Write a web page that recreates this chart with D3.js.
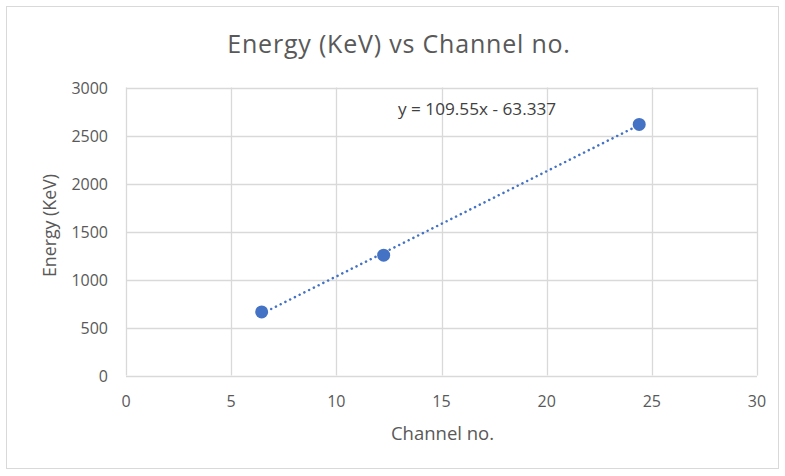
<!DOCTYPE html>
<html><head><meta charset="utf-8">
<script src="https://cdn.jsdelivr.net/npm/d3@7"></script>
<style>body{margin:0;background:#fff}svg{display:block}text{font-family:"Open Sans",sans-serif}</style>
</head><body><svg id="c" width="785" height="476"></svg>
<script>
const channels = [6.45, 12.25, 24.4];
const energies = [662, 1253, 2615];
const xTicks = [0, 5, 10, 15, 20, 25, 30];
const yTicks = [0, 500, 1000, 1500, 2000, 2500, 3000];
const slope = 109.55, intercept = -63.337;
const title = "Energy (KeV) vs Channel no.";
const xTitle = "Channel no.", yTitle = "Energy (KeV)";
const eqLabel = "y = 109.55x - 63.337";

const svg = d3.select("#c");
svg.append("rect").attr("x",6.5).attr("y",6.5).attr("width",772).attr("height",462)
  .attr("fill","#fff").attr("stroke","#d9d9d9");
const m = {l:126, r:757, t:87.5, b:375.5};
const x = d3.scaleLinear().domain([0,30]).range([m.l,m.r]);
const y = d3.scaleLinear().domain([0,3000]).range([m.b,m.t]);
const g = svg.append("g");
g.selectAll(".vg").data(xTicks).join("line").attr("x1",d=>Math.round(x(d))+0.5).attr("x2",d=>Math.round(x(d))+0.5)
  .attr("y1",m.t).attr("y2",m.b).attr("stroke","#d9d9d9").attr("stroke-width",1.3);
g.selectAll(".hg").data(yTicks).join("line").attr("y1",d=>Math.round(y(d))+0.5).attr("y2",d=>Math.round(y(d))+0.5)
  .attr("x1",m.l).attr("x2",m.r).attr("stroke","#d9d9d9").attr("stroke-width",1.3);
g.selectAll(".xl").data(xTicks).join("text").attr("x",d=>x(d)).attr("y",407).attr("text-anchor","middle")
  .attr("font-size",16).attr("fill","#595959").text(d=>d);
g.selectAll(".yl").data(yTicks).join("text").attr("x",108).attr("y",d=>y(d)+6).attr("text-anchor","end")
  .attr("font-size",16).attr("fill","#595959").text(d=>d);
svg.append("text").attr("x",399).attr("y",53).attr("text-anchor","middle").attr("font-size",25)
  .attr("letter-spacing",0.8).attr("fill","#595959").text(title);
svg.append("text").attr("x",442.5).attr("y",440).attr("text-anchor","middle").attr("font-size",18.5).attr("fill","#595959").text(xTitle);
svg.append("text").attr("transform","translate(56,225.5) rotate(-90)").attr("text-anchor","middle").attr("font-size",17.8).attr("fill","#595959").text(yTitle);
const x0 = d3.min(channels), x1 = d3.max(channels);
svg.append("line").attr("x1",x(x0)).attr("y1",y(slope*x0+intercept)).attr("x2",x(x1)).attr("y2",y(slope*x1+intercept))
  .attr("stroke","#4472C4").attr("stroke-width",2.5).attr("stroke-dasharray","0.1 5.2").attr("stroke-linecap","round");
svg.selectAll(".pt").data(channels).join("circle").attr("cx",d=>x(d)).attr("cy",(d,i)=>y(energies[i])).attr("r",6.5).attr("fill","#4472C4");
svg.append("text").attr("x",398).attr("y",114.5).attr("font-size",17.2).attr("fill","#404040").text(eqLabel);
</script></body></html>
